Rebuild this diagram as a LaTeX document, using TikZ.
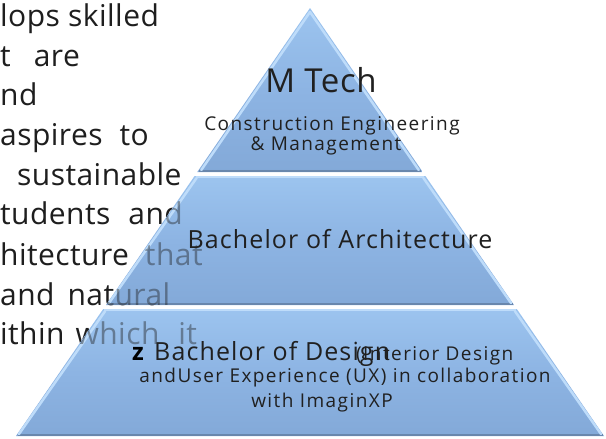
\documentclass[tikz,border=0pt]{standalone}
\usepackage{fontspec}
\usetikzlibrary{calc}
\setmainfont{Open Sans}
\newfontfamily\labA[LetterSpace=2]{Open Sans}
\newfontfamily\labB[LetterSpace=4.5]{Open Sans}
\newfontfamily\labC[LetterSpace=7.5]{Open Sans}
\newfontfamily\labL[LetterSpace=1.5]{Open Sans}
\definecolor{tierLight}{RGB}{156,196,239}
\definecolor{tierMid}{RGB}{141,180,227}
\definecolor{tierDark}{RGB}{131,169,216}
\definecolor{edgeHi}{RGB}{190,220,250}
\definecolor{ltcol}{RGB}{30,30,30}
\definecolor{ptcol}{RGB}{32,32,32}
\tikzset{
  lt/.style={anchor=base west, inner sep=0pt, font=\labL\fontsize{30}{36}\selectfont, text=ltcol},
  ptbig/.style={anchor=base, inner sep=0pt, font=\labA\fontsize{33}{40}\selectfont, text=ptcol},
  ptmid/.style={anchor=base, inner sep=0pt, font=\labB\fontsize{25}{30}\selectfont, text=ptcol},
  ptsmall/.style={anchor=base, inner sep=0pt, font=\labC\fontsize{19}{23}\selectfont, text=ptcol},
  tierbody/.style={top color=tierLight, bottom color=tierDark, middle color=tierMid, draw=none},
  bevelside/.style={draw=edgeHi, line width=2.5pt, line cap=round},
  beveltop/.style={draw=edgeHi, line width=1.5pt},
  bevelbot/.style={draw=tierDark!80!black, line width=2pt}
}
\newcommand\lefttext[2]{%
  \node[lt,#2] (#1l1) at (0,27) {lops skilled};
  \node[lt,#2] (#1l2) at (0,66) {t\hspace{23pt}are};
  \node[lt,#2] (#1l3) at (0,105) {nd};
  \node[lt,#2] (#1l4) at (0,145) {aspires\hspace{17pt}to};
  \node[lt,#2] (#1l5) at (17,185) {sustainable};
  \node[lt,#2] (#1l6) at (0,224) {tudents\hspace{18pt}and};
  \node[lt,#2] (#1l7) at (0,265) {hitecture\hspace{16pt}that};
  \node[lt,#2] (#1l8) at (0,305) {and\hspace{13pt}natural};
  \node[lt,#2] (#1l9) at (0,344) {ithin\hspace{11pt}which\hspace{19pt}it};
}
\begin{document}
\begin{tikzpicture}[x=1pt,y=-1pt]
\useasboundingbox (0,0) rectangle (606,439);
\clip (0,0) rectangle (606,439);
\fill[white] (0,0) rectangle (606,439);
% geometry
\coordinate (apex) at (310,8);
\coordinate (t1L) at (197.3,172);
\coordinate (t1R) at (422.7,172);
\coordinate (t2TL) at (194.6,176);
\coordinate (t2TR) at (425.4,176);
\coordinate (t2BL) at (106,305);
\coordinate (t2BR) at (514,305);
\coordinate (t3TL) at (103.2,309);
\coordinate (t3TR) at (516.8,309);
\coordinate (t3BL) at (16,436);
\coordinate (t3BR) at (604,436);
% left text (behind)
\lefttext{a}{}
% tier 1
\path[tierbody] (apex) -- (t1R) -- (t1L) -- cycle;
\draw[bevelbot] ($(t1L)+(1.5,-1)$) -- ($(t1R)+(-1.5,-1)$);
\draw[bevelside] ($(apex)+(0,4)$) -- ($(t1L)+(4,-2)$);
\draw[bevelside] ($(apex)+(0,4)$) -- ($(t1R)+(-4,-2)$);
% tier 2
\path[tierbody] (t2TL) -- (t2TR) -- (t2BR) -- (t2BL) -- cycle;
\draw[beveltop] ($(t2TL)+(1,1)$) -- ($(t2TR)+(-1,1)$);
\draw[bevelbot] ($(t2BL)+(1.5,-1)$) -- ($(t2BR)+(-1.5,-1)$);
\draw[bevelside] ($(t2TL)+(2,2)$) -- ($(t2BL)+(3,-2)$);
\draw[bevelside] ($(t2TR)+(-2,2)$) -- ($(t2BR)+(-3,-2)$);
% tier 3
\path[tierbody] (t3TL) -- (t3TR) -- (t3BR) -- (t3BL) -- cycle;
\draw[beveltop] ($(t3TL)+(1,1)$) -- ($(t3TR)+(-1,1)$);
\draw[bevelbot] ($(t3BL)+(1.5,-1)$) -- ($(t3BR)+(-1.5,-1)$);
\draw[bevelside] ($(t3TL)+(2,2)$) -- ($(t3BL)+(3,-2)$);
\draw[bevelside] ($(t3TR)+(-2,2)$) -- ($(t3BR)+(-3,-2)$);
% left text seen through the pyramid
\begin{scope}
  \clip (apex) -- (t3BR) -- (t3BL) -- cycle;
  \lefttext{b}{text opacity=0.42}
\end{scope}
% pyramid labels
\node[ptbig] (mtech) at (321,92) {M Tech};
\node[ptsmall] (ce1) at (332,130) {Construction Engineering};
\node[ptsmall] (ce2) at (326,150) {\& Management};
\node[ptmid] (barch) at (340,248) {Bachelor of Architecture};
\node[ptmid, anchor=base west, font=\fontsize{24}{28}\selectfont\bfseries, text=black] (zz) at (132,360) {z};
\node[ptmid, anchor=base west] (bdes) at (154,360) {Bachelor of Design};
\node[ptsmall, anchor=base west] (ides) at (356,360) {(Interior Design};
\node[ptsmall] (ux) at (345,382) {andUser Experience (UX) in collaboration};
\node[ptsmall] (imxp) at (322,407) {with ImaginXP};
\end{tikzpicture}
\end{document}
